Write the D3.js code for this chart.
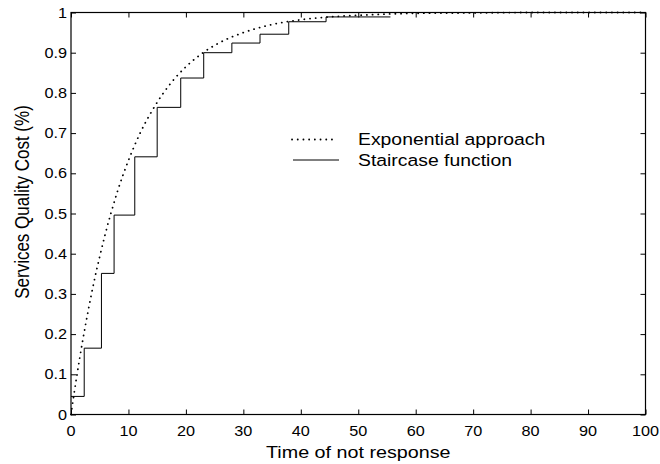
<!DOCTYPE html>
<html><head><meta charset="utf-8">
<script src="https://cdn.jsdelivr.net/npm/d3@7"></script>
<style>body{margin:0;background:#fff}svg{display:block}text{font-family:"Liberation Sans",Arial,sans-serif;fill:#000}</style>
</head><body><svg id="c" width="660" height="464"></svg>
<script>
// Staircase function: step edges and the level held after each edge
const stepX = [0, 2.3, 5.3, 7.5, 11.1, 15.0, 19.1, 23.1, 28.0, 32.9, 37.9, 44.4, 55.6];
const stepY = [0.045, 0.165, 0.351, 0.496, 0.641, 0.764, 0.837, 0.900, 0.924, 0.946, 0.977, 0.989];
// Exponential approach
const expX = [0, 1, 2, 3, 4, 5, 6, 7, 8, 10, 12, 14, 16, 18, 20, 23, 26, 30, 35, 40, 45, 50, 60, 70, 80, 90, 100];
const expY = [0, 0.095, 0.181, 0.259, 0.330, 0.393, 0.451, 0.503, 0.551, 0.632, 0.699, 0.753, 0.798, 0.835, 0.865, 0.900, 0.926, 0.950, 0.970, 0.982, 0.989, 0.993, 0.998, 0.999, 1.0, 1.0, 1.0];
const xTicks = [0, 10, 20, 30, 40, 50, 60, 70, 80, 90, 100];
const yTicks = [0, 0.1, 0.2, 0.3, 0.4, 0.5, 0.6, 0.7, 0.8, 0.9, 1];
const yTickLabels = ["0", "0.1", "0.2", "0.3", "0.4", "0.5", "0.6", "0.7", "0.8", "0.9", "1"];
const seriesNames = ["Exponential approach", "Staircase function"];
const xLabel = "Time of not response";
const yLabel = "Services Quality Cost (%)";

const SX = 1.16; // horizontal text stretch
const L = 71, R = 645.5, T = 12.5, B = 414.5;
const svg = d3.select("#c");
const x = d3.scaleLinear().domain([0, 100]).range([L, R]);
const y = d3.scaleLinear().domain([0, 1]).range([B, T]);

function txt(g, px, py, s, size, anchor, rot) {
  const t = g.append("text").attr("transform", `translate(${px},${py}) scale(${SX},1)` + (rot ? ` rotate(${rot})` : ""))
    .attr("font-size", size).attr("text-anchor", anchor).text(s);
  return t;
}

// curves
const stairPts = stepX.map((v, i) => [v, i < stepY.length ? stepY[i] : stepY[stepY.length - 1]]);
svg.append("path").attr("d", d3.line().x(d => x(d[0])).y(d => y(d[1])).curve(d3.curveStepAfter)(stairPts))
  .attr("fill", "none").attr("stroke", "#000").attr("stroke-width", 1);
const expPts = expX.map((v, i) => [v, expY[i]]);
svg.append("path").attr("d", d3.line().x(d => x(d[0])).y(d => y(d[1])).curve(d3.curveMonotoneX)(expPts))
  .attr("fill", "none").attr("stroke", "#000").attr("stroke-width", 1.8)
  .attr("stroke-linecap", "round").attr("stroke-dasharray", "0.1 5.6");

// axes (box with inward ticks on all sides)
const tl = 5;
const gx = svg.append("g").attr("transform", `translate(0,${B})`)
  .call(d3.axisBottom(x).tickValues(xTicks).tickSizeInner(-tl).tickSizeOuter(0).tickFormat(""));
const gx2 = svg.append("g").attr("transform", `translate(0,${T})`)
  .call(d3.axisTop(x).tickValues(xTicks).tickSizeInner(-tl).tickSizeOuter(0).tickFormat(""));
const gy = svg.append("g").attr("transform", `translate(${L},0)`)
  .call(d3.axisLeft(y).tickValues(yTicks).tickSizeInner(-tl).tickSizeOuter(0).tickFormat(""));
const gy2 = svg.append("g").attr("transform", `translate(${R},0)`)
  .call(d3.axisRight(y).tickValues(yTicks).tickSizeInner(-tl).tickSizeOuter(0).tickFormat(""));
[gx, gx2, gy, gy2].forEach(g => { g.selectAll("path,line").attr("stroke", "#000").attr("stroke-width", 1); g.select(".domain").remove(); });
svg.append("rect").attr("x", L).attr("y", T).attr("width", R - L).attr("height", B - T)
  .attr("fill", "none").attr("stroke", "#000").attr("stroke-width", 1.2);

const lab = svg.append("g");
xTicks.forEach(v => txt(lab, x(v), 436, String(v), 14, "middle"));
yTicks.forEach((v, i) => txt(lab, 67, y(v) + 5, yTickLabels[i], 14, "end"));
txt(lab, (L + R) / 2, 458, xLabel, 17, "middle");
txt(lab, 29, 202, yLabel, 17, "middle", -90);

// legend
const lg = svg.append("g");
lg.append("line").attr("x1", 292).attr("x2", 337).attr("y1", 139.5).attr("y2", 139.5)
  .attr("stroke", "#000").attr("stroke-width", 1.8).attr("stroke-linecap", "round").attr("stroke-dasharray", "0.1 5.6");
lg.append("line").attr("x1", 293).attr("x2", 339).attr("y1", 160).attr("y2", 160)
  .attr("stroke", "#000").attr("stroke-width", 1);
txt(lg, 358, 145, seriesNames[0], 16.7, "start");
txt(lg, 358, 165.5, seriesNames[1], 16.7, "start");
</script></body></html>
